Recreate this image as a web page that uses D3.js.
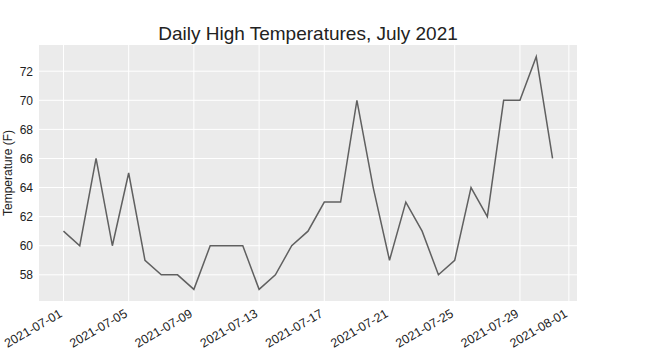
<!DOCTYPE html>
<html><head><meta charset="utf-8">
<script src="https://cdn.jsdelivr.net/npm/d3@7"></script>
<style>body{margin:0;background:#fff}svg{display:block}text{font-family:"Liberation Sans",Arial,sans-serif}</style>
</head><body><svg id="c" width="646" height="357"></svg>
<script>
const dates = ["2021-07-01","2021-07-02","2021-07-03","2021-07-04","2021-07-05","2021-07-06","2021-07-07","2021-07-08","2021-07-09","2021-07-10","2021-07-11","2021-07-12","2021-07-13","2021-07-14","2021-07-15","2021-07-16","2021-07-17","2021-07-18","2021-07-19","2021-07-20","2021-07-21","2021-07-22","2021-07-23","2021-07-24","2021-07-25","2021-07-26","2021-07-27","2021-07-28","2021-07-29","2021-07-30","2021-07-31"];
const highs = [61,60,66,60,65,59,58,58,57,60,60,60,57,58,60,61,63,63,70,64,59,63,61,58,59,64,62,70,70,73,66];
const xTickLabels = ["2021-07-01","2021-07-05","2021-07-09","2021-07-13","2021-07-17","2021-07-21","2021-07-25","2021-07-29","2021-08-01"];
const yTicks = [58,60,62,64,66,68,70,72];
const title = "Daily High Temperatures, July 2021";
const yLabel = "Temperature (F)";

const parse = d3.utcParse("%Y-%m-%d");
const data = dates.map((d,i)=>({date:parse(d), v:highs[i]}));
const m = {l:39, r:577, t:45, b:301};
const svg = d3.select("#c");
const x0 = data[0].date.getTime(), x1 = data[data.length-1].date.getTime();
const xpad = (x1-x0)*0.05;
const x = d3.scaleUtc().domain([new Date(x0-xpad), new Date(x1+xpad)]).range([m.l,m.r]);
const ymin = d3.min(highs), ymax = d3.max(highs), ypad=(ymax-ymin)*0.05;
const y = d3.scaleLinear().domain([ymin-ypad, ymax+ypad]).range([m.b,m.t]);

svg.append("rect").attr("x",m.l).attr("y",m.t).attr("width",m.r-m.l).attr("height",m.b-m.t).attr("fill","#ebebeb");

const xTickDates = xTickLabels.map(parse);
svg.append("g").selectAll("line").data(xTickDates).join("line")
  .attr("x1",d=>x(d)).attr("x2",d=>x(d)).attr("y1",m.t).attr("y2",m.b)
  .attr("stroke","#fff").attr("stroke-width",1);
svg.append("g").selectAll("line").data(yTicks).join("line")
  .attr("y1",d=>y(d)).attr("y2",d=>y(d)).attr("x1",m.l).attr("x2",m.r)
  .attr("stroke","#fff").attr("stroke-width",1);

const line = d3.line().x(d=>x(d.date)).y(d=>y(d.v));
svg.append("path").datum(data).attr("d",line).attr("fill","none")
  .attr("stroke","#606060").attr("stroke-width",1.5).attr("stroke-linejoin","miter");

const xAxis = d3.axisBottom(x).tickValues(xTickDates).tickFormat(d3.utcFormat("%Y-%m-%d")).tickSize(0).tickPadding(0);
const gx = svg.append("g").attr("transform",`translate(0,${m.b})`).call(xAxis);
gx.select(".domain").remove();
gx.selectAll("text").attr("font-size",12.5).attr("fill","#222").attr("font-family","Liberation Sans, Arial, sans-serif")
  .attr("text-anchor","end").attr("dy",null).attr("y",0)
  .attr("transform","translate(-1,15) rotate(-30)");

const yAxis = d3.axisLeft(y).tickValues(yTicks).tickSize(0).tickPadding(6);
const gy = svg.append("g").attr("transform",`translate(${m.l},0)`).call(yAxis);
gy.select(".domain").remove();
gy.selectAll("text").attr("font-size",12).attr("fill","#222").attr("font-family","Liberation Sans, Arial, sans-serif");

svg.append("text").attr("x",(m.l+m.r)/2).attr("y",40).attr("text-anchor","middle")
  .attr("font-size",19).attr("fill","#222").text(title);
svg.append("text").attr("transform",`translate(12,${(m.t+m.b)/2}) rotate(-90)`).attr("text-anchor","middle")
  .attr("font-size",12).attr("fill","#222").text(yLabel);
</script></body></html>
